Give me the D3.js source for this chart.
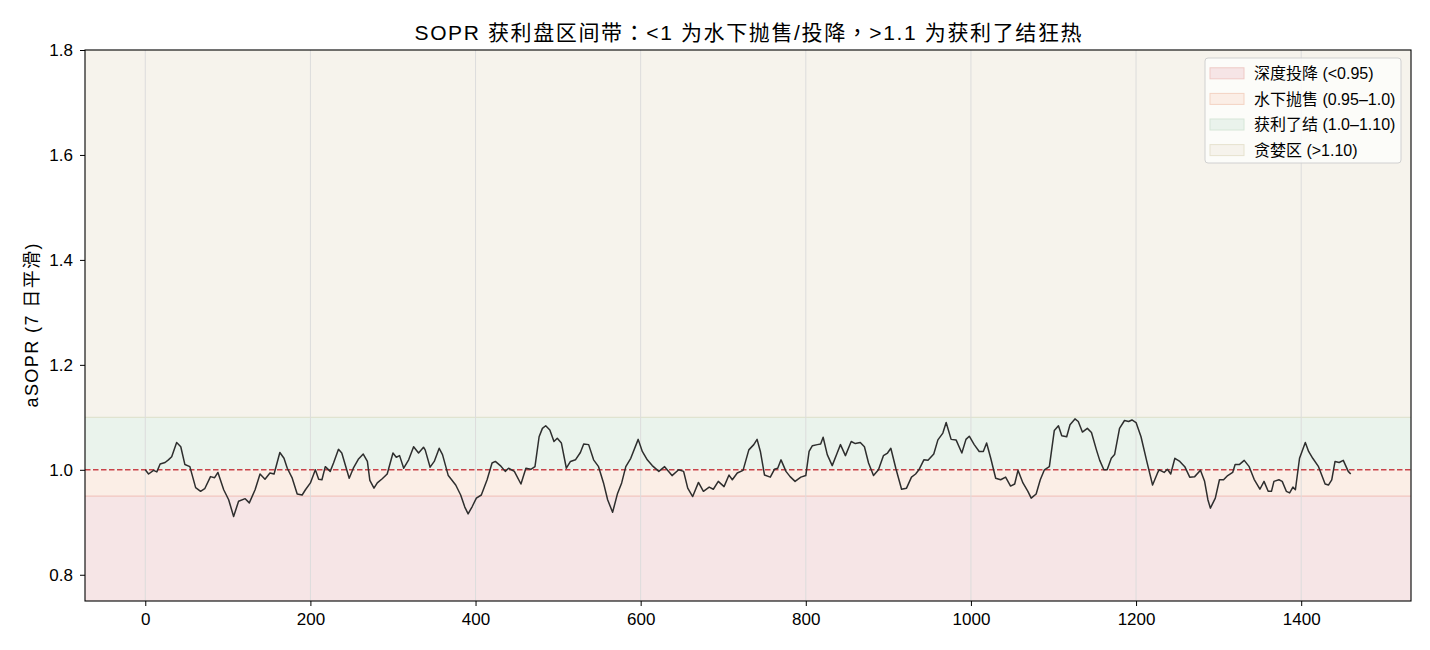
<!DOCTYPE html>
<html>
<head>
<meta charset="utf-8">
<script src="https://cdn.jsdelivr.net/npm/d3@7"></script>
<style>
  body { margin: 0; background: #fff; }
  text { font-family: "Liberation Sans", Arial, "Noto Sans CJK SC", sans-serif; }
</style>
</head>
<body>
<svg id="chart" width="1430" height="650"></svg>
<script>
const days = [0,4,10,14,18,24,28,32,38,43,48,54,61,67,72,79,84,88,95,101,107,113,121,126,133,139,145,151,156,163,168,172,178,184,190,194,200,206,210,214,218,224,228,234,238,247,252,258,264,269,272,277,281,287,293,300,304,308,313,319,325,331,337,339,345,350,356,360,367,376,382,387,391,396,401,407,414,420,424,430,436,440,447,455,461,467,472,477,481,485,490,495,499,504,510,515,521,527,531,537,543,549,555,560,566,572,577,582,588,597,602,608,614,622,629,638,646,652,657,663,670,676,683,688,694,701,707,711,717,724,731,737,741,745,750,757,762,766,770,776,781,787,794,800,804,808,814,818,821,826,832,838,842,848,855,860,866,871,876,882,888,894,899,903,909,916,922,928,933,937,943,948,955,960,966,970,976,982,989,994,998,1004,1010,1015,1019,1024,1030,1036,1042,1048,1053,1057,1063,1069,1073,1079,1084,1089,1095,1101,1106,1110,1116,1120,1126,1130,1135,1141,1146,1152,1156,1161,1165,1170,1174,1180,1186,1191,1195,1200,1206,1213,1220,1226,1228,1234,1238,1242,1247,1253,1259,1265,1271,1278,1283,1287,1290,1296,1301,1306,1311,1317,1320,1325,1331,1337,1343,1350,1355,1360,1364,1367,1373,1377,1382,1386,1390,1393,1398,1405,1409,1414,1421,1429,1433,1437,1441,1446,1451,1457,1460];
const sopr = [1.000,0.992,0.999,0.996,1.011,1.014,1.019,1.025,1.052,1.044,1.010,1.006,0.966,0.959,0.964,0.987,0.985,0.995,0.962,0.943,0.911,0.940,0.945,0.937,0.962,0.992,0.982,0.994,0.992,1.033,1.022,1.003,0.984,0.954,0.952,0.962,0.975,1.000,0.982,0.981,1.006,0.997,1.013,1.039,1.032,0.984,1.003,1.020,1.030,1.016,0.980,0.965,0.975,0.983,0.992,1.032,1.024,1.027,1.003,1.019,1.044,1.032,1.043,1.038,1.005,1.016,1.041,1.029,0.989,0.971,0.952,0.929,0.916,0.930,0.946,0.952,0.981,1.013,1.016,1.008,0.997,1.003,0.997,0.973,1.003,1.001,1.006,1.063,1.079,1.084,1.076,1.054,1.060,1.051,1.003,1.016,1.019,1.033,1.049,1.048,1.019,1.006,0.975,0.943,0.919,0.955,0.975,1.006,1.022,1.058,1.035,1.019,1.008,0.997,1.006,0.989,1.000,0.997,0.965,0.949,0.976,0.959,0.967,0.963,0.978,0.968,0.990,0.981,0.994,0.999,1.038,1.048,1.058,1.035,0.990,0.986,1.001,1.003,1.019,0.997,0.987,0.978,0.986,0.989,1.035,1.046,1.048,1.049,1.062,1.029,1.008,1.032,1.048,1.027,1.054,1.050,1.052,1.044,1.013,0.989,1.000,1.027,1.032,1.041,1.003,0.963,0.965,0.986,0.992,1.000,1.019,1.018,1.030,1.057,1.070,1.090,1.058,1.057,1.032,1.058,1.064,1.048,1.035,1.035,1.051,1.022,0.984,0.981,0.986,0.969,0.973,0.999,0.975,0.959,0.946,0.954,0.981,1.000,1.006,1.075,1.084,1.065,1.063,1.086,1.097,1.092,1.072,1.079,1.071,1.038,1.018,1.000,1.000,1.022,1.029,1.079,1.094,1.092,1.095,1.090,1.063,1.016,0.971,0.994,1.000,0.995,1.001,0.992,1.022,1.016,1.006,0.986,0.987,0.999,0.978,0.943,0.927,0.946,0.981,0.981,0.989,0.995,1.010,1.010,1.018,1.006,0.982,0.963,0.978,0.959,0.959,0.978,0.981,0.978,0.959,0.956,0.967,0.962,1.022,1.052,1.035,1.022,1.006,0.973,0.971,0.981,1.016,1.014,1.018,0.997,0.992];

// zone bands
const bandNames = ["深度投降 (<0.95)", "水下抛售 (0.95–1.0)", "获利了结 (1.0–1.10)", "贪婪区 (>1.10)"];
const bandLow = [0.0, 0.95, 1.0, 1.10];
const bandHigh = [0.95, 1.0, 1.10, 3.0];
const bandFill = ["#f6e5e6", "#fbeee6", "#eaf3ec", "#f6f3ec"];
const bandEdge = ["#efc9c6", "#f3d3c3", "#d6e6d8", "#e6e2cf"];

const xTicks = [0, 200, 400, 600, 800, 1000, 1200, 1400];
const yTicks = [0.8, 1.0, 1.2, 1.4, 1.6, 1.8];

const W = 1430, H = 650;
const margin = {left: 85, right: 19, top: 50, bottom: 49};
const pw = W - margin.left - margin.right;
const ph = H - margin.top - margin.bottom;

const svg = d3.select("#chart");
const g = svg.append("g").attr("transform", `translate(${margin.left},${margin.top})`);

const x = d3.scaleLinear().domain([-73, 1533]).range([0, pw]);
const y = d3.scaleLinear().domain([0.75, 1.8]).range([ph, 0]);

g.append("clipPath").attr("id", "clip")
    .append("rect").attr("width", pw).attr("height", ph);

let plot = g.append("g").attr("clip-path", "url(#clip)");

// bands
plot.selectAll("rect.band")
    .data(bandLow)
    .enter()
    .append("rect")
    .attr("class", "band")
    .attr("x", 0)
    .attr("width", pw)
    .attr("y", (d, i) => y(Math.min(bandHigh[i], 1.8)))
    .attr("height", (d, i) => y(Math.max(d, 0.75)) - y(Math.min(bandHigh[i], 1.8)))
    .attr("fill", (d, i) => bandFill[i]);

// band edge lines
plot.selectAll("line.edge")
    .data([0.95, 1.10])
    .enter()
    .append("line")
    .attr("x1", 0).attr("x2", pw)
    .attr("y1", d => y(d)).attr("y2", d => y(d))
    .attr("stroke", (d, i) => i == 0 ? "#f2c6bf" : "#e0e3d0")
    .attr("stroke-width", 1.2);

// vertical grid
plot.selectAll("line.grid")
    .data(xTicks)
    .enter()
    .append("line")
    .attr("x1", d => x(d)).attr("x2", d => x(d))
    .attr("y1", 0).attr("y2", ph)
    .attr("stroke", "#dcdcdc")
    .attr("stroke-width", 1);

// breakeven line
plot.append("line")
    .attr("x1", 0).attr("x2", pw)
    .attr("y1", y(1.0)).attr("y2", y(1.0))
    .attr("stroke", "#c9444a")
    .attr("stroke-width", 1.5)
    .attr("stroke-dasharray", "5.5,2.5");

// sopr line
let line = d3.line()
    .x((d, i) => x(days[i]))
    .y(d => y(d));

plot.append("path")
    .attr("d", line(sopr))
    .attr("fill", "none")
    .attr("stroke", "#2e2e2e")
    .attr("stroke-width", 1.5)
    .attr("stroke-linejoin", "round");

// axes
let xAxis = g.append("g")
    .attr("transform", `translate(0,${ph})`)
    .call(d3.axisBottom(x).tickValues(xTicks).tickSize(5).tickPadding(7).tickFormat(d3.format("d")));
let yAxis = g.append("g")
    .call(d3.axisLeft(y).tickValues(yTicks).tickSize(5).tickPadding(7).tickFormat(d3.format(".1f")));

for (let ax of [xAxis, yAxis]) {
    ax.select(".domain").remove();
    ax.selectAll("text").attr("font-size", 17).attr("fill", "#000")
        .style("font-family", "'Liberation Sans', Arial, sans-serif");
    ax.selectAll("line").attr("stroke", "#000").attr("stroke-width", 1);
}

// frame
g.append("rect")
    .attr("width", pw).attr("height", ph)
    .attr("fill", "none")
    .attr("stroke", "#000")
    .attr("stroke-width", 1.1);

// title
svg.append("text")
    .attr("x", margin.left + pw / 2)
    .attr("y", 40)
    .attr("text-anchor", "middle")
    .attr("font-size", 21)
    .attr("textLength", 667)
    .attr("lengthAdjust", "spacing")
    .style("font-family", "'Liberation Sans', Arial, 'Noto Sans CJK TC', sans-serif")
    .text("SOPR 获利盘区间带：<1 为水下抛售/投降，>1.1 为获利了结狂热");

// y label
svg.append("text")
    .attr("transform", `translate(38,${margin.top + ph / 2}) rotate(-90)`)
    .attr("text-anchor", "middle")
    .attr("font-size", 18)
    .attr("textLength", 164)
    .attr("lengthAdjust", "spacing")
    .text("aSOPR (7 日平滑)");

// legend
let legend = svg.append("g").attr("transform", "translate(1205,58)");
legend.append("rect")
    .attr("width", 196).attr("height", 105)
    .attr("rx", 3)
    .attr("fill", "#fdfdfb")
    .attr("fill-opacity", 0.85)
    .attr("stroke", "#d0d0d0");

let items = legend.selectAll("g.item")
    .data(bandNames)
    .enter()
    .append("g")
    .attr("transform", (d, i) => `translate(0,${15.3 + i * 25.6})`);

items.append("rect")
    .attr("x", 5).attr("y", -5.5)
    .attr("width", 34).attr("height", 11)
    .attr("fill", (d, i) => bandFill[i])
    .attr("stroke", (d, i) => bandEdge[i]);

items.append("text")
    .attr("x", 49).attr("y", 5.6)
    .attr("font-size", 16)
    .text(d => d);
</script>
</body>
</html>
